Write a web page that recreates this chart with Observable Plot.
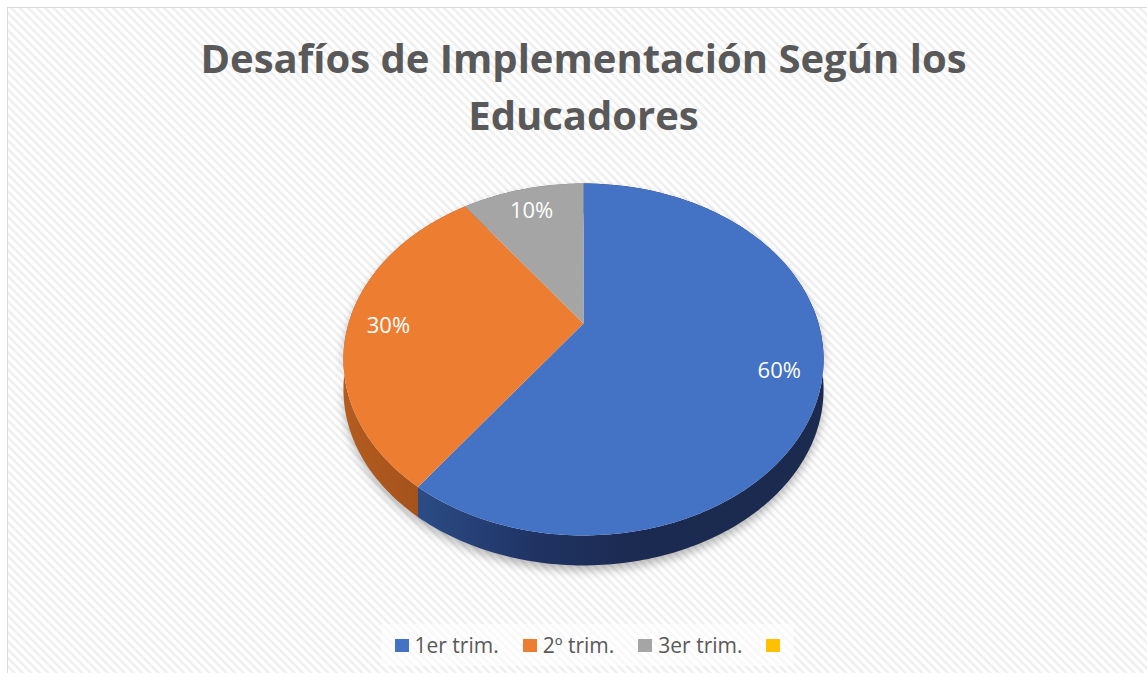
<!DOCTYPE html>
<html>
<head>
<meta charset="utf-8">
<script src="https://cdn.jsdelivr.net/npm/d3@7"></script>
<script src="https://cdn.jsdelivr.net/npm/@observablehq/plot@0.6"></script>
<style>
  html, body { margin: 0; padding: 0; background: #ffffff; overflow: hidden; }
  #page { position: relative; width: 1147px; height: 673px; overflow: hidden; background: #ffffff; }
  #frame {
    position: absolute; left: 7px; top: 7px; width: 1160px; height: 690px;
    border-left: 1.5px solid #d9d9d9; border-top: 1.5px solid #d9d9d9;
    background: repeating-linear-gradient(45deg, #ffffff 0px, #ffffff 2.5px, #efefef 3.5px, #efefef 5px, #ffffff 6px);
  }
  #title {
    position: absolute; left: 20px; top: 29px; width: 1127px; text-align: center;
    font-family: "Open Sans", sans-serif; font-weight: 700; font-size: 40px; line-height: 57px;
    color: #595959;
  }
  #chart { position: absolute; left: 0; top: 150px; }
  #legend {
    position: absolute; top: 624px; left: 0; width: 1147px; display: flex; justify-content: center;
    font-family: "Open Sans", sans-serif; font-size: 21px; color: #595959;
  }
  #legend .box { display: flex; gap: 24px; padding: 6px 14px; background: rgba(255,255,255,0.55); margin-left: 28px; }
  #legend .item { display: flex; align-items: center; gap: 6px; height: 30px; }
  #legend .sw { width: 14px; height: 13px; display: inline-block; }
</style>
</head>
<body>
<div id="page">
  <div id="frame"></div>
  <div id="title">Desafíos de Implementación Según los<br>Educadores</div>
  <div id="chart"></div>
  <div id="legend"><div class="box"></div></div>
</div>
<script>
// ---- data ----
const categories = ["1er trim.", "2º trim.", "3er trim.", ""];
const values = [60, 30, 10, 0];
const valueLabels = ["60%", "30%", "10%", ""];

// ---- style ----
const topColors = ["#4472C4", "#ED7D31", "#A5A5A5", "#FFC000"];
const sideColors = ["url(#sideBlue)", "url(#sideOrange)", "#6f6f6f", "#b38600"];

// ---- geometry (3D perspective pie) ----
const W = 1147, H = 460;
const cx = 583, cy = 173;      // pie centre in svg px
const ux = 235, uy = 168.6;    // px per unit radius
const persp = 0.2045;          // perspective strength
const depthPx = 30;
const dz = depthPx / uy;

function project(phi, r, off = 0) {
  const X = r * Math.sin(phi), Y = -r * Math.cos(phi);
  const w = 1 - persp * Y;
  return {x: X / w, y: Y / w + off};
}

const arcs = d3.pie().sort(null).startAngle(0).endAngle(2 * Math.PI)(values);

const topPts = [], sidePts = [], labelPts = [];
arcs.forEach((a, i) => {
  if (a.value <= 0) return;
  const n = Math.max(2, Math.ceil((a.endAngle - a.startAngle) / (Math.PI / 180)));
  const ring = d3.range(n + 1).map(j => a.startAngle + (a.endAngle - a.startAngle) * j / n);
  const c = project(0, 0);
  topPts.push({id: i, ...c, fill: topColors[i]});
  ring.forEach(phi => topPts.push({id: i, ...project(phi, 1), fill: topColors[i]}));
  ring.forEach(phi => sidePts.push({id: i, ...project(phi, 1), fill: sideColors[i]}));
  ring.slice().reverse().forEach(phi => sidePts.push({id: i, ...project(phi, 1, dz), fill: sideColors[i]}));
  const mid = (a.startAngle + a.endAngle) / 2;
  labelPts.push({...project(mid, 0.83), text: valueLabels[i]});
});

const plot = Plot.plot({
  width: W, height: H, margin: 0,
  x: {domain: [-cx / ux, (W - cx) / ux], range: [0, W], axis: null},
  y: {domain: [-cy / uy, (H - cy) / uy], range: [0, H], axis: null},
  color: {type: "identity"},
  style: {background: "transparent", overflow: "visible"},
  marks: [
    Plot.line(sidePts, {x: "x", y: "y", z: "id", fill: "fill", stroke: "none", curve: "linear-closed"}),
    Plot.line(topPts, {x: "x", y: "y", z: "id", fill: "fill", stroke: "none", curve: "linear-closed"}),
    Plot.text(labelPts, {x: "x", y: "y", text: "text", fill: "#ffffff", fontSize: 22,
      fontFamily: "Open Sans, sans-serif", textAnchor: "middle", dy: 2})
  ]
});

// gradients for the pie's side walls
const ns = "http://www.w3.org/2000/svg";
const defs = document.createElementNS(ns, "defs");
defs.innerHTML = `
  <linearGradient id="sideBlue" gradientUnits="userSpaceOnUse" x1="418" y1="0" x2="823" y2="0">
    <stop offset="0" stop-color="#2b4c86"/>
    <stop offset="0.3" stop-color="#1f3262"/>
    <stop offset="0.55" stop-color="#1b2a50"/>
    <stop offset="1" stop-color="#1b2a4e"/>
  </linearGradient>
  <linearGradient id="sideOrange" gradientUnits="userSpaceOnUse" x1="343" y1="0" x2="425" y2="0">
    <stop offset="0" stop-color="#b45c20"/>
    <stop offset="1" stop-color="#a3511b"/>
  </linearGradient>`;
plot.insertBefore(defs, plot.firstChild);
const sideGroup = plot.querySelector('g[aria-label="line"]');
if (sideGroup) sideGroup.style.filter = "drop-shadow(0px 5px 5px rgba(0,0,0,0.28))";

document.getElementById("chart").appendChild(plot);

// legend
const box = document.querySelector("#legend .box");
categories.forEach((c, i) => {
  const item = document.createElement("div");
  item.className = "item";
  const sw = document.createElement("span");
  sw.className = "sw";
  sw.style.background = topColors[i];
  item.appendChild(sw);
  if (c) { const t = document.createElement("span"); t.textContent = c; item.appendChild(t); }
  box.appendChild(item);
});
</script>
</body>
</html>
